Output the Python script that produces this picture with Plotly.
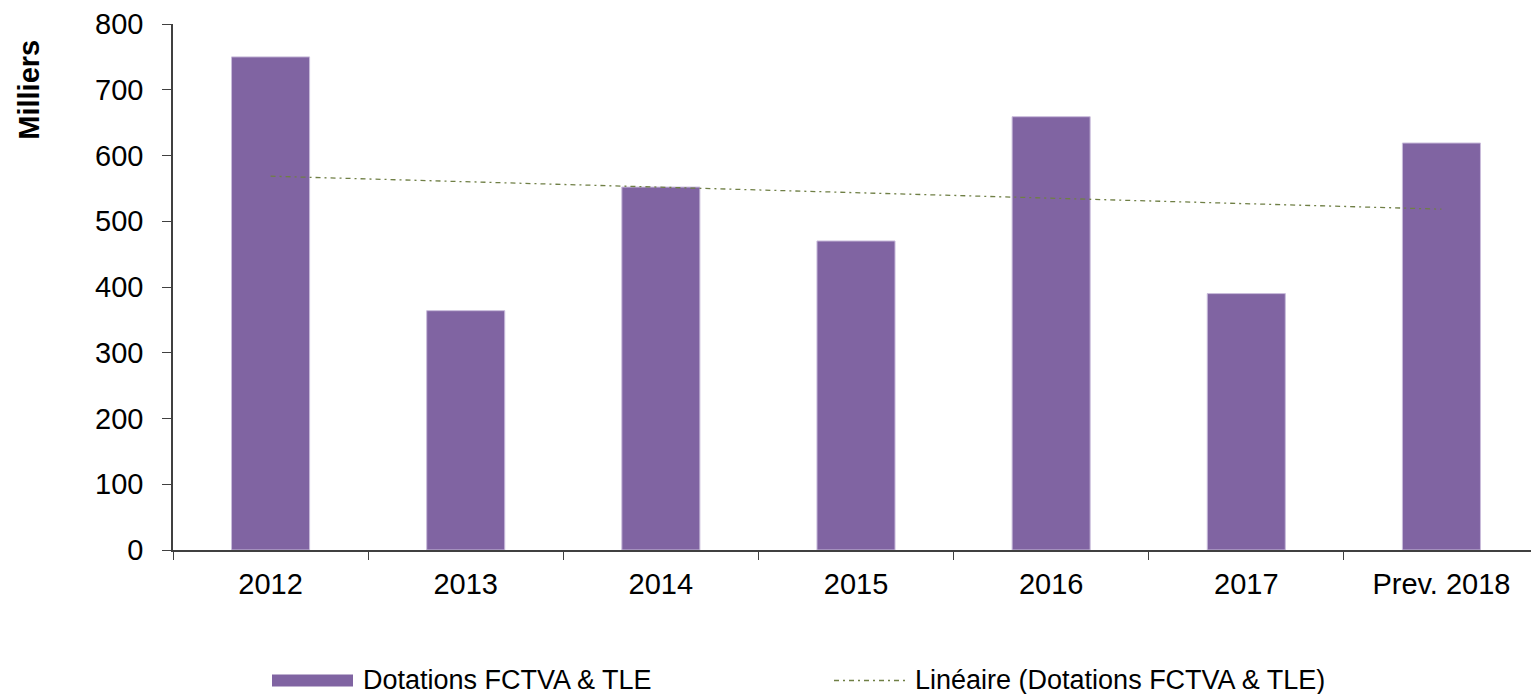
import numpy as np
import plotly.graph_objects as go

categories = ["2012", "2013", "2014", "2015", "2016", "2017", "Prev. 2018"]
dotations = [750, 364, 552, 470, 659, 390, 619]
y_ticks = [0, 100, 200, 300, 400, 500, 600, 700, 800]

series_name = "Dotations FCTVA & TLE"
trend_name = "Linéaire (Dotations FCTVA & TLE)"

# linear trendline (least squares on category index), as in the source chart
idx = np.arange(len(categories))
slope, intercept = np.polyfit(idx, dotations, 1)
trend = slope * idx + intercept

OFF = 8  # page body margin
W, H = 1539 - OFF, 694 - OFF
ML, MR, MT, MB = 173 - OFF, 0, 22 - OFF, 144
PW, PH = W - ML - MR, H - MT - MB

def px(x):  # reference pixel x -> paper
    return (x - OFF - ML) / PW

def py(y):  # reference pixel y -> paper
    return (H - MB - (y - OFF)) / PH

FONT = "Arial, 'Liberation Sans', sans-serif"
BAR = "#8064A2"
TREND = "#6F7F45"

fig = go.Figure()
fig.add_trace(go.Bar(
    x=categories, y=dotations, name=series_name,
    marker=dict(color=BAR, line=dict(color="#C9BCDB", width=1)),
    showlegend=False,
))
fig.add_trace(go.Scatter(
    x=categories, y=trend, name=trend_name, mode="lines",
    line=dict(color=TREND, width=1.3, dash="5px,4px,2px,4px"),
    showlegend=False, hoverinfo="skip",
))

fig.update_layout(
    width=W, height=H,
    margin=dict(l=ML, r=MR, t=MT, b=MB),
    paper_bgcolor="white", plot_bgcolor="white",
    font=dict(family=FONT, size=29, color="black"),
    bargap=0.6,
    showlegend=False,
    xaxis=dict(
        type="category", showgrid=False, showline=True, linecolor="#404040", linewidth=1.5,
        ticks="outside", tickson="boundaries", ticklen=8, tickcolor="#404040",
        tickfont=dict(size=29, family=FONT, color="black"),
        ticklabelstandoff=7,
    ),
    yaxis=dict(
        range=[0, 800], tickvals=y_ticks, showgrid=False, zeroline=False,
        showline=True, linecolor="#404040", linewidth=1.5,
        ticks="outside", ticklen=9, tickcolor="#404040",
        tickfont=dict(size=29, family=FONT, color="black"),
        ticklabelstandoff=13, ticklabeloverflow="allow",
    ),
)

# y axis title placed at top-left like the original
fig.add_annotation(
    text="<b>Milliers</b>", xref="paper", yref="paper",
    x=px(29), y=py(88), textangle=-90, showarrow=False,
    font=dict(size=29, family=FONT, color="black"),
    xanchor="center", yanchor="middle",
)

# custom legend
leg_y = 680
fig.add_shape(type="rect", xref="paper", yref="paper",
              x0=px(272), x1=px(353), y0=py(675), y1=py(687),
              fillcolor=BAR, line=dict(width=0))
fig.add_annotation(text=series_name, xref="paper", yref="paper",
                   x=px(361), y=py(leg_y), xanchor="left", yanchor="middle",
                   showarrow=False, font=dict(size=27, family=FONT, color="black"))
fig.add_shape(type="line", xref="paper", yref="paper",
              x0=px(834), x1=px(909), y0=py(681), y1=py(681),
              line=dict(color=TREND, width=1.3, dash="5px,4px,2px,4px"))
fig.add_annotation(text=trend_name, xref="paper", yref="paper",
                   x=px(913), y=py(leg_y), xanchor="left", yanchor="middle",
                   showarrow=False, font=dict(size=27, family=FONT, color="black"))

fig.write_html("out.html")
